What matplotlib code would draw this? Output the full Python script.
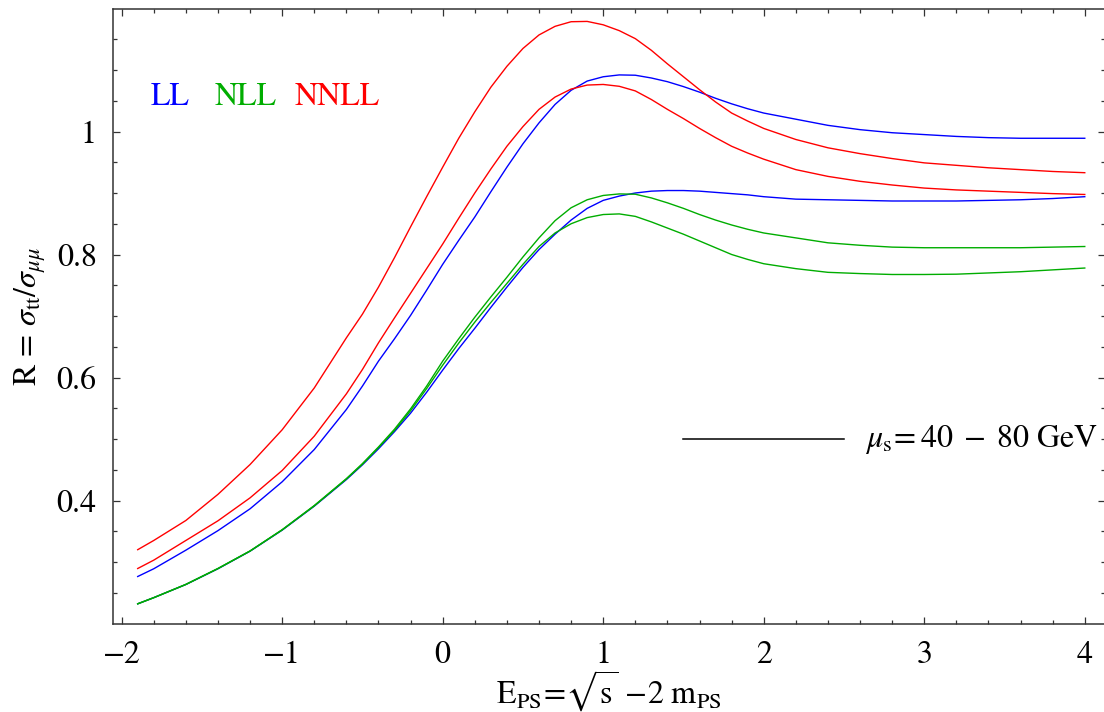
import numpy as np
import matplotlib
matplotlib.use("Agg")
import matplotlib.pyplot as plt
from matplotlib.ticker import FixedLocator

plt.rcParams['font.family'] = ['STIXGeneral', 'DejaVu Sans']
plt.rcParams['mathtext.fontset'] = 'stix'

# x grid (E_PS in GeV)
x = [-1.9, -1.8, -1.6, -1.4, -1.2, -1.0, -0.8, -0.6,
     -0.5, -0.4, -0.3, -0.2, -0.1, 0.0, 0.1, 0.2, 0.3, 0.4, 0.5, 0.6, 0.7, 0.8,
     0.9, 1.0, 1.1, 1.2, 1.3, 1.4, 1.5, 1.6, 1.7, 1.8, 1.9, 2.0,
     2.2, 2.4, 2.6, 2.8, 3.0, 3.2, 3.4, 3.6, 3.8, 4.0]

# LL (blue)
ll_upper = [0.2764, 0.289, 0.3192, 0.351, 0.3865, 0.4304, 0.4829, 0.548,
            0.586, 0.6266, 0.663, 0.701, 0.742, 0.784, 0.823, 0.861, 0.902, 0.942,
            0.980, 1.014, 1.044, 1.067, 1.082, 1.089, 1.092, 1.0915, 1.087, 1.081,
            1.073, 1.064, 1.054, 1.045, 1.037, 1.030,
            1.020, 1.010, 1.003, 0.998, 0.995, 0.992, 0.990, 0.989, 0.989, 0.989]
ll_lower = [0.232, 0.242, 0.2634, 0.289, 0.3176, 0.3518, 0.3908, 0.434,
            0.458, 0.484, 0.512, 0.542, 0.576, 0.612, 0.647, 0.680, 0.714, 0.747,
            0.779, 0.808, 0.833, 0.856, 0.875, 0.888, 0.895, 0.900, 0.903, 0.904,
            0.904, 0.903, 0.901, 0.899, 0.897, 0.894,
            0.890, 0.889, 0.888, 0.887, 0.887, 0.887, 0.888, 0.889, 0.891, 0.894]
# NLL (green)
nll_upper = [0.232, 0.242, 0.2636, 0.2895, 0.318, 0.3525, 0.3918, 0.4355,
             0.460, 0.487, 0.516, 0.549, 0.586, 0.6266, 0.663, 0.698, 0.731, 0.763,
             0.796, 0.827, 0.855, 0.876, 0.889, 0.896, 0.8985, 0.898, 0.892, 0.884,
             0.875, 0.865, 0.856, 0.848, 0.841, 0.835,
             0.827, 0.819, 0.815, 0.812, 0.811, 0.811, 0.811, 0.811, 0.812, 0.813]
nll_lower = [0.232, 0.242, 0.2635, 0.2893, 0.3178, 0.3522, 0.3913, 0.435,
             0.459, 0.486, 0.514, 0.546, 0.582, 0.620, 0.656, 0.690, 0.722, 0.753,
             0.784, 0.813, 0.835, 0.850, 0.860, 0.865, 0.866, 0.862, 0.853, 0.843,
             0.833, 0.822, 0.811, 0.800, 0.792, 0.785,
             0.777, 0.771, 0.769, 0.7675, 0.7675, 0.768, 0.770, 0.772, 0.775, 0.778]
# NNLL (red)
nnll_upper = [0.320, 0.335, 0.3675, 0.410, 0.4585, 0.515, 0.583, 0.6645,
              0.703, 0.747, 0.795, 0.845, 0.894, 0.942, 0.989, 1.032, 1.072, 1.106,
              1.135, 1.157, 1.171, 1.1785, 1.179, 1.1735, 1.164, 1.151, 1.132, 1.110,
              1.089, 1.068, 1.048, 1.030, 1.017, 1.005,
              0.987, 0.9735, 0.964, 0.956, 0.949, 0.945, 0.941, 0.938, 0.935, 0.933]
nnll_lower = [0.2894, 0.303, 0.335, 0.367, 0.4043, 0.4488, 0.5046, 0.5734,
              0.613, 0.6564, 0.697, 0.737, 0.777, 0.817, 0.859, 0.900, 0.939, 0.976,
              1.008, 1.036, 1.056, 1.069, 1.0755, 1.0765, 1.0735, 1.066, 1.052, 1.036,
              1.021, 1.005, 0.990, 0.976, 0.965, 0.955,
              0.938, 0.927, 0.919, 0.913, 0.908, 0.905, 0.903, 0.901, 0.899, 0.8976]

BLUE = (0, 0, 1)
GREEN = (0, 0.68, 0)
RED = (1, 0, 0)

fig = plt.figure(figsize=(11.04, 7.12), dpi=100)
ax = fig.add_axes([113.3 / 1104, 1 - 623.5 / 712, (1105 - 113.3) / 1104, (623.5 - 8.5) / 712])

lw = 1.0
ax.plot(x, ll_upper, color=BLUE, lw=lw)
ax.plot(x, ll_lower, color=BLUE, lw=lw)
ax.plot(x, nll_upper, color=GREEN, lw=lw)
ax.plot(x, nll_lower, color=GREEN, lw=lw)
ax.plot(x, nnll_upper, color=RED, lw=lw)
ax.plot(x, nnll_lower, color=RED, lw=lw)

ax.set_xlim(-2.052, 4.126)
ax.set_ylim(0.2, 1.2)

xt = [-2, -1, 0, 1, 2, 3, 4]
ax.xaxis.set_major_locator(FixedLocator(xt))
ax.set_xticklabels(['\u22122', '\u22121', '0', '1', '2', '3', '4'])
ax.xaxis.set_minor_locator(FixedLocator([v / 5 for v in range(-10, 21) if v % 5 != 0]))
yt = [0.4, 0.6, 0.8, 1.0]
ax.yaxis.set_major_locator(FixedLocator(yt))
ax.set_yticklabels(['0.4', '0.6', '0.8', '1'])
ax.yaxis.set_minor_locator(FixedLocator([v / 20 for v in range(5, 24) if v % 4 != 0]))

ax.tick_params(which='both', direction='in', top=True, right=True, color='#333333',
               width=0.9)
ax.tick_params(which='major', length=4.8, labelsize=23, pad=12)
ax.tick_params(which='minor', length=3.0)
for s in ax.spines.values():
    s.set_linewidth(1.1)
    s.set_color('#333333')

ax.set_xlabel(r'$\mathrm{E_{PS}\!=\!\sqrt{s}\,-\!2\ m_{PS}}$', fontsize=23, labelpad=-1)
ax.set_ylabel(r'$\mathrm{R}\,=\,\sigma_{\mathrm{tt}}/\sigma_{\mu\mu}$', fontsize=23, labelpad=6)

ax.text(-1.822, 1.056, 'LL', color=BLUE, fontsize=23, va='center', ha='left')
ax.text(-1.4206, 1.056, 'NLL', color=GREEN, fontsize=23, va='center', ha='left')
ax.text(-0.922, 1.056, 'NNLL', color=RED, fontsize=23, va='center', ha='left')

ax.plot([1.5, 2.5], [0.5, 0.5], color='black', lw=1.1)
ax.text(2.63, 0.5, r'$\mu_{\mathrm{s}}\!=40\;-\;80\ \mathrm{GeV}$', fontsize=23,
        va='center', ha='left')

fig.savefig('out.png', dpi=100)
